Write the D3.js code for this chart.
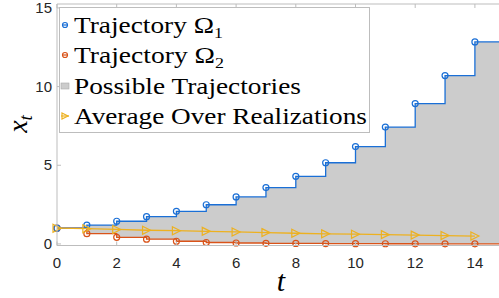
<!DOCTYPE html>
<html>
<head>
<meta charset="utf-8">
<script src="https://cdn.jsdelivr.net/npm/d3@7"></script>
<style>
  body { margin: 0; background: #fff; }
  svg { display: block; }
</style>
</head>
<body>
<script>
'use strict';

// time steps and series
const steps = [0, 1, 2, 3, 4, 5, 6, 7, 8, 9, 10, 11, 12, 13, 14];
const omega1 = [1, 1.2, 1.44, 1.73, 2.07, 2.49, 2.99, 3.58, 4.3, 5.16, 6.19, 7.43, 8.92, 10.7, 12.84];
const omega2 = [1, 0.65, 0.42, 0.3, 0.17, 0.09, 0.06, 0.04, 0.03, 0.02, 0.015, 0.01, 0.008, 0.006, 0.004];
const average = [1, 0.97, 0.92, 0.87, 0.84, 0.8, 0.76, 0.72, 0.68, 0.64, 0.62, 0.59, 0.56, 0.53, 0.5];
const xTicks = [0, 2, 4, 6, 8, 10, 12, 14];
const yTicks = [0, 5, 10, 15];
const legendLabels = ["Trajectory \u03A9", "Trajectory \u03A9", "Possible Trajectories", "Average Over Realizations"];
const legendSubs = ["1", "2", "", ""];

const W = 499, H = 298;
const blue = "#1a6fd6", red = "#d95319", yellow = "#edb120", gray = "#cccccc", axisGray = "#bdbdbd";

const svg = d3.select("body").append("svg").attr("width", W).attr("height", H);

const x = d3.scaleLinear().domain([0, 15]).range([57, 504.75]);
const y = d3.scaleLinear().domain([-0.1, 15.25]).range([245.5, 4]);

// rows for stairs (extend last value to the right edge)
const rows = steps.map((t, i) => ({ t: t, hi: omega1[i], lo: omega2[i], avg: average[i] }));
const stairRows = rows.concat([{ t: 15, hi: omega1[omega1.length - 1], lo: omega2[omega2.length - 1] }]);

const plot = svg.append("g");

// gray band between the two trajectories
plot.append("path")
  .datum(stairRows)
  .attr("d", d3.area().curve(d3.curveStepAfter)
    .x(d => x(d.t)).y0(d => y(d.lo)).y1(d => y(d.hi)))
  .attr("fill", gray);

// box and ticks
const box = svg.append("g");
box.append("line").attr("x1", x(0)).attr("x2", W).attr("y1", y(15.25)).attr("y2", y(15.25))
  .attr("stroke", axisGray);
box.append("line").attr("x1", x(0)).attr("x2", W).attr("y1", y(-0.1)).attr("y2", y(-0.1))
  .attr("stroke", axisGray);
box.append("line").attr("x1", x(0)).attr("x2", x(0)).attr("y1", y(15.25)).attr("y2", y(-0.1))
  .attr("stroke", axisGray);

xTicks.forEach(t => {
  box.append("line").attr("x1", x(t)).attr("x2", x(t)).attr("y1", y(-0.1)).attr("y2", y(-0.1) - 4)
    .attr("stroke", axisGray);
  box.append("line").attr("x1", x(t)).attr("x2", x(t)).attr("y1", y(15.25)).attr("y2", y(15.25) + 4)
    .attr("stroke", axisGray);
  box.append("text").attr("x", x(t)).attr("y", 268)
    .attr("text-anchor", "middle")
    .style("font-family", "Liberation Sans, Arial, sans-serif")
    .style("font-size", "15px").attr("fill", "#262626")
    .text(t);
});
yTicks.forEach(v => {
  box.append("line").attr("x1", x(0)).attr("x2", x(0) + 4).attr("y1", y(v)).attr("y2", y(v))
    .attr("stroke", axisGray);
  box.append("text").attr("x", x(0) - 5).attr("y", y(v) + 5)
    .attr("text-anchor", "end")
    .style("font-family", "Liberation Sans, Arial, sans-serif")
    .style("font-size", "15px").attr("fill", "#262626")
    .text(v);
});

// stairs
const stair = (key) => d3.line().curve(d3.curveStepAfter).x(d => x(d.t)).y(d => y(d[key]));
plot.append("path").datum(stairRows).attr("d", stair("lo"))
  .attr("fill", "none").attr("stroke", red).attr("stroke-width", 1.3);
plot.append("path").datum(stairRows).attr("d", stair("hi"))
  .attr("fill", "none").attr("stroke", blue).attr("stroke-width", 1.3);

plot.selectAll(".m2").data(rows).enter().append("circle")
  .attr("cx", d => x(d.t)).attr("cy", d => y(d.lo)).attr("r", 3)
  .attr("fill", "none").attr("stroke", red).attr("stroke-width", 1.2);
plot.selectAll(".m1").data(rows).enter().append("circle")
  .attr("cx", d => x(d.t)).attr("cy", d => y(d.hi)).attr("r", 3)
  .attr("fill", "none").attr("stroke", blue).attr("stroke-width", 1.2);

// average line with right-pointing triangles
plot.append("path").datum(rows)
  .attr("d", d3.line().x(d => x(d.t)).y(d => y(d.avg)))
  .attr("fill", "none").attr("stroke", yellow).attr("stroke-width", 1.3);
const tri = (cx, cy, s) => `M${cx - s},${cy - s}L${cx + s},${cy}L${cx - s},${cy + s}Z`;
plot.selectAll(".m3").data(rows).enter().append("path")
  .attr("d", d => tri(x(d.t), y(d.avg), 4))
  .attr("fill", "none").attr("stroke", yellow).attr("stroke-width", 1.2);

// axis labels
svg.append("text")
  .attr("transform", "translate(27, 124)rotate(-90)")
  .attr("text-anchor", "middle")
  .style("font-family", "Liberation Serif, serif").style("font-style", "italic")
  .style("font-size", "28px").attr("fill", "#000")
  .html('x<tspan dy="5" font-size="19px">t</tspan>');

svg.append("text")
  .attr("x", x(7.5)).attr("y", 291)
  .attr("text-anchor", "middle")
  .style("font-family", "Liberation Serif, serif").style("font-style", "italic")
  .style("font-size", "30px").attr("fill", "#000")
  .text("t");

// legend
const legend = svg.append("g");
legend.append("rect").attr("x", 59.5).attr("y", 7.5).attr("width", 310).attr("height", 125)
  .attr("fill", "#fff").attr("stroke", axisGray);

// widths of the Computer Modern labels in the reference
const labelWidths = [149, 150, 227, 293];
const rowY = [25, 55, 86, 116];
legendLabels.forEach((label, i) => {
  const g = legend.append("g");
  const txt = g.append("text")
    .attr("x", 0).attr("y", rowY[i] + 8)
    .style("font-family", "Liberation Serif, serif")
    .style("font-size", "23px").attr("fill", "#000")
    .text(label);
  if (legendSubs[i]) {
    txt.append("tspan").attr("dy", 5).style("font-size", "15px").text(legendSubs[i]);
  }
  const k = labelWidths[i] / txt.node().getComputedTextLength();
  g.attr("transform", `translate(74,0) scale(${k},1)`);
});

const lx = 65;
legend.append("circle").attr("cx", lx).attr("cy", rowY[0]).attr("r", 2.5)
  .attr("fill", "none").attr("stroke", blue).attr("stroke-width", 1.2);
legend.append("line").attr("x1", lx - 3).attr("x2", lx + 3).attr("y1", rowY[0]).attr("y2", rowY[0])
  .attr("stroke", blue).attr("stroke-width", 1.2);
legend.append("circle").attr("cx", lx).attr("cy", rowY[1]).attr("r", 2.5)
  .attr("fill", "none").attr("stroke", red).attr("stroke-width", 1.2);
legend.append("line").attr("x1", lx - 3).attr("x2", lx + 3).attr("y1", rowY[1]).attr("y2", rowY[1])
  .attr("stroke", red).attr("stroke-width", 1.2);
legend.append("rect").attr("x", lx - 4).attr("y", rowY[2] - 3).attr("width", 8).attr("height", 6)
  .attr("fill", gray).attr("stroke", "#aaa").attr("stroke-width", 0.6);
legend.append("path").attr("d", tri(lx, rowY[3], 3))
  .attr("fill", "none").attr("stroke", yellow).attr("stroke-width", 1.2);
legend.append("line").attr("x1", lx - 4).attr("x2", lx + 4).attr("y1", rowY[3]).attr("y2", rowY[3])
  .attr("stroke", yellow).attr("stroke-width", 1.2);
</script>
</body>
</html>
